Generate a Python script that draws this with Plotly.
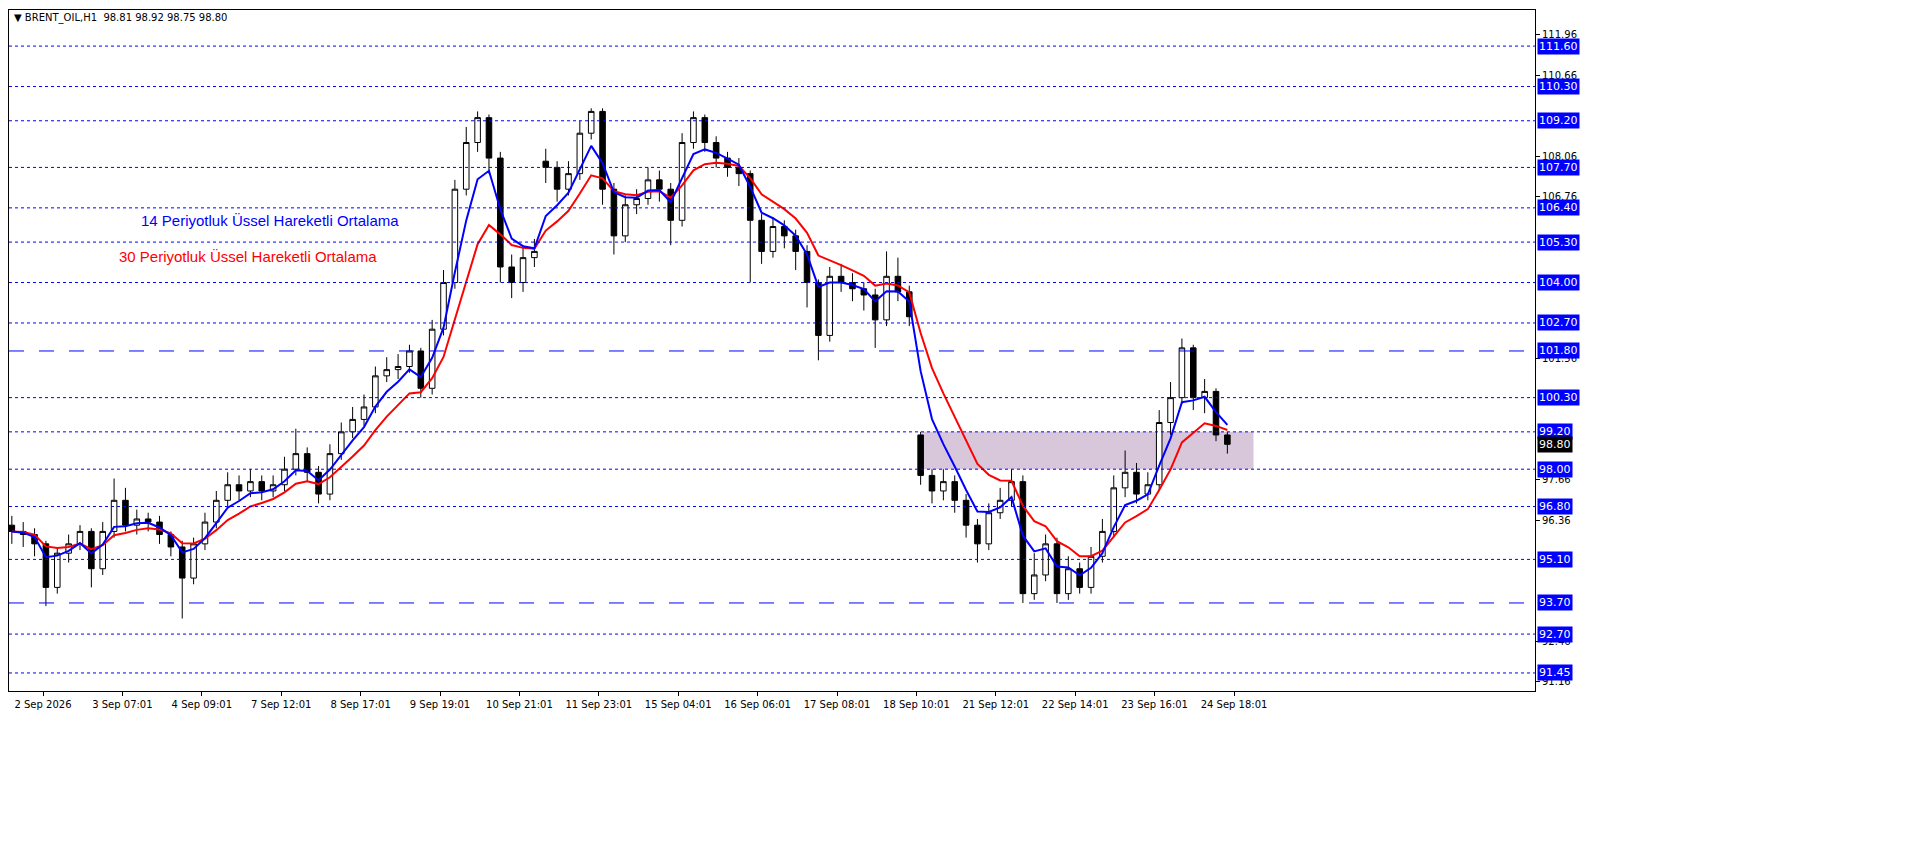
import pandas as pd
import plotly.graph_objects as go

# 4-hour candles
opens = [96.2, 96.0, 95.9, 95.6, 94.2, 95.3, 95.6, 96.0, 94.8, 96.0,
         97.0, 96.2, 96.4, 96.3, 95.9, 95.5, 94.5, 95.6, 96.3, 97.0,
         97.5, 97.3, 97.6, 97.3, 97.5, 98.0, 98.5, 97.9, 97.2, 98.5,
         99.2, 99.6, 100.0, 101.0, 101.2, 101.3, 101.8, 100.6, 102.5, 104.0,
         107.0, 108.5, 109.3, 108.0, 104.5, 104.0, 104.8, 107.9, 107.7, 107.0,
         107.5, 108.8, 109.5, 107.0, 105.5, 106.5, 106.7, 107.3, 107.0, 106.0,
         108.5, 109.3, 108.5, 108.0, 107.7, 107.5, 106.0, 105.0, 105.8, 105.5,
         105.0, 104.0, 102.3, 104.2, 104.0, 103.8, 103.6, 102.8, 104.2, 103.7,
         99.1, 97.8, 97.3, 97.6, 97.0, 96.2, 95.6, 96.6, 97.0, 97.6,
         94.0, 94.6, 95.6, 94.0, 94.8, 94.2, 95.2, 96.0, 97.4, 97.9,
         97.2, 97.5, 99.5, 100.3, 101.9, 100.3, 100.5, 99.1]
highs = [96.5, 96.3, 96.1, 95.7, 95.5, 95.9, 96.2, 96.1, 96.3, 97.7,
         97.4, 96.7, 96.6, 96.5, 96.0, 95.7, 95.8, 96.6, 97.3, 97.9,
         97.8, 98.0, 97.8, 97.8, 98.4, 99.3, 98.7, 98.1, 98.8, 99.5,
         100.0, 100.4, 101.3, 101.6, 101.7, 102.0, 101.9, 102.8, 104.4, 107.3,
         109.0, 109.5, 109.4, 108.2, 104.9, 105.2, 105.4, 108.3, 107.9, 107.9,
         109.2, 109.6, 109.6, 107.2, 106.8, 107.0, 107.7, 107.6, 107.2, 108.8,
         109.5, 109.4, 108.7, 108.2, 108.0, 107.6, 106.2, 106.1, 106.0, 105.7,
         105.2, 104.1, 104.5, 104.6, 104.3, 104.0, 103.8, 105.0, 104.8, 103.9,
         99.2, 98.0, 98.0, 97.8, 97.2, 96.4, 96.9, 97.4, 98.0, 97.8,
         95.3, 95.9, 95.8, 95.2, 95.0, 95.5, 96.4, 97.8, 98.6, 98.2,
         97.9, 99.9, 100.8, 102.2, 102.0, 100.9, 100.6, 99.2]
lows = [95.6, 95.5, 95.2, 93.6, 94.0, 95.0, 95.4, 94.2, 94.6, 95.8,
        96.0, 95.9, 96.0, 95.6, 95.2, 93.2, 94.3, 95.4, 96.1, 96.8,
        97.0, 97.1, 97.0, 97.1, 97.3, 97.8, 97.6, 96.9, 97.0, 98.3,
        99.0, 99.4, 99.8, 100.8, 100.9, 101.1, 100.3, 100.4, 102.3, 103.8,
        106.8, 108.2, 107.5, 104.0, 103.5, 103.7, 104.5, 107.2, 106.6, 106.8,
        107.3, 108.6, 106.5, 104.9, 105.3, 106.2, 106.5, 106.6, 105.2, 105.8,
        108.3, 108.2, 107.7, 107.4, 107.1, 104.0, 104.6, 104.8, 105.1, 104.4,
        103.2, 101.5, 102.1, 103.7, 103.4, 103.1, 101.9, 102.6, 103.4, 102.6,
        97.5, 96.9, 97.0, 96.6, 95.8, 95.0, 95.4, 96.4, 96.8, 93.7,
        93.8, 94.4, 93.7, 93.8, 94.0, 94.0, 95.0, 95.8, 97.1, 96.9,
        97.0, 97.3, 99.1, 100.1, 99.9, 99.8, 98.9, 98.5]
closes = [96.0, 95.9, 95.6, 94.2, 95.3, 95.6, 96.0, 94.8, 96.0, 97.0,
          96.2, 96.4, 96.3, 95.9, 95.5, 94.5, 95.6, 96.3, 97.0, 97.5,
          97.3, 97.6, 97.3, 97.5, 98.0, 98.5, 97.9, 97.2, 98.5, 99.2,
          99.6, 100.0, 101.0, 101.2, 101.3, 101.8, 100.6, 102.5, 104.0, 107.0,
          108.5, 109.3, 108.0, 104.5, 104.0, 104.8, 105.0, 107.7, 107.0, 107.5,
          108.8, 109.5, 107.0, 105.5, 106.5, 106.7, 107.3, 107.0, 106.0, 108.5,
          109.3, 108.5, 108.0, 107.7, 107.5, 106.0, 105.0, 105.8, 105.5, 105.0,
          104.0, 102.3, 104.2, 104.0, 103.8, 103.6, 102.8, 104.2, 103.7, 102.9,
          97.8, 97.3, 97.6, 97.0, 96.2, 95.6, 96.6, 97.0, 97.6, 94.0,
          94.6, 95.6, 94.0, 94.8, 94.2, 95.2, 96.0, 97.4, 97.9, 97.2,
          97.5, 99.5, 100.3, 101.9, 100.3, 100.5, 99.1, 98.8]

date_labels = ['2 Sep 2026', '3 Sep 07:01', '4 Sep 09:01', '7 Sep 12:01', '8 Sep 17:01',
               '9 Sep 19:01', '10 Sep 21:01', '11 Sep 23:01', '15 Sep 04:01', '16 Sep 06:01',
               '17 Sep 08:01', '18 Sep 10:01', '21 Sep 12:01', '22 Sep 14:01', '23 Sep 16:01',
               '24 Sep 18:01']
# axis ticks not covered by a level box
price_ticks = [91.16, 92.46, 96.36, 97.66, 101.56, 106.76, 108.06, 110.66, 111.96]
dotted_levels = [111.60, 110.30, 109.20, 107.70, 106.40, 105.30, 104.00, 102.70,
                 100.30, 99.20, 98.00, 96.80, 95.10, 92.70, 91.45]
dashed_levels = [101.80, 93.70]
last_price = 98.80
zone = (80.1, 109.3, 98.00, 99.20)  # x0, x1, y_low, y_high

idx = list(range(len(closes)))
s = pd.Series(closes)
ema14 = s.ewm(span=4, adjust=False).mean()
ema30 = s.ewm(span=8, adjust=False).mean()

fig = go.Figure()
fig.add_trace(go.Candlestick(
    x=idx, open=opens, high=highs, low=lows, close=closes,
    increasing=dict(line=dict(color='black', width=1), fillcolor='white'),
    decreasing=dict(line=dict(color='black', width=1), fillcolor='black'),
    whiskerwidth=0, showlegend=False, hoverinfo='skip'))
fig.add_trace(go.Scatter(x=idx, y=ema30, mode='lines', line=dict(color='#ff0000', width=2),
                         showlegend=False, hoverinfo='skip'))
fig.add_trace(go.Scatter(x=idx, y=ema14, mode='lines', line=dict(color='#0000ff', width=2),
                         showlegend=False, hoverinfo='skip'))

fig.add_shape(type='rect', x0=zone[0], x1=zone[1], y0=zone[2], y1=zone[3],
              fillcolor='rgba(190,160,195,0.6)', line_width=0, layer='below')
for lv in dotted_levels:
    fig.add_hline(y=lv, line=dict(color='#0000ff', width=1, dash='dot'))
for lv in dashed_levels:
    fig.add_hline(y=lv, line=dict(color='#0000ff', width=1, dash='longdash'))

# boxed price labels on the right axis
for lv in dotted_levels + dashed_levels:
    fig.add_annotation(x=1.001, xref='paper', y=lv, yref='y', text=f'{lv:.2f}',
                       showarrow=False, xanchor='left', bgcolor='#0000ff',
                       font=dict(color='white', size=11, family='DejaVu Sans'),
                       borderpad=1)
fig.add_annotation(x=1.001, xref='paper', y=last_price, yref='y', text=f'{last_price:.2f}',
                   showarrow=False, xanchor='left', bgcolor='black',
                   font=dict(color='white', size=11, family='DejaVu Sans'), borderpad=1)

fig.add_annotation(x=0.085, xref='paper', y=106.0, yref='y',
                   text='14 Periyotluk Üssel Hareketli Ortalama', showarrow=False,
                   xanchor='left', font=dict(color='#0000ff', size=15, family='Liberation Sans'))
fig.add_annotation(x=0.071, xref='paper', y=104.85, yref='y',
                   text='30 Periyotluk Üssel Hareketli Ortalama', showarrow=False,
                   xanchor='left', font=dict(color='#ff0000', size=15, family='Liberation Sans'))
fig.add_annotation(x=0.002, xref='paper', y=1.0, yref='paper', yanchor='top',
                   text='▼ BRENT_OIL,H1  98.81 98.92 98.75 98.80', showarrow=False,
                   xanchor='left', font=dict(color='black', size=10, family='DejaVu Sans'))

px_per_bar = 11.36
tick_x = [(34 + 79.4 * k) / px_per_bar - 0.25 for k in range(len(date_labels))]

fig.update_layout(
    width=1916, height=868, autosize=False,
    margin=dict(l=1, r=389, t=2, b=185),
    paper_bgcolor='white', plot_bgcolor='white',
    font=dict(family='DejaVu Sans', size=11, color='black'),
    xaxis=dict(range=[-0.25, 1526 / px_per_bar - 0.25], rangeslider=dict(visible=False),
               tickvals=tick_x, ticktext=date_labels, showgrid=False, zeroline=False,
               showline=True, linecolor='black', mirror=True, ticks='outside',
               ticklen=4, tickcolor='black', tickfont=dict(size=10)),
    yaxis=dict(range=[90.87, 112.76], side='right', tickvals=price_ticks,
               ticktext=[f'{v:.2f}' for v in price_ticks], showgrid=False, zeroline=False,
               showline=True, linecolor='black', mirror=True, ticks='outside', ticklen=4,
               tickcolor='black', tickfont=dict(size=10)),
)

fig.write_html("out.html")
